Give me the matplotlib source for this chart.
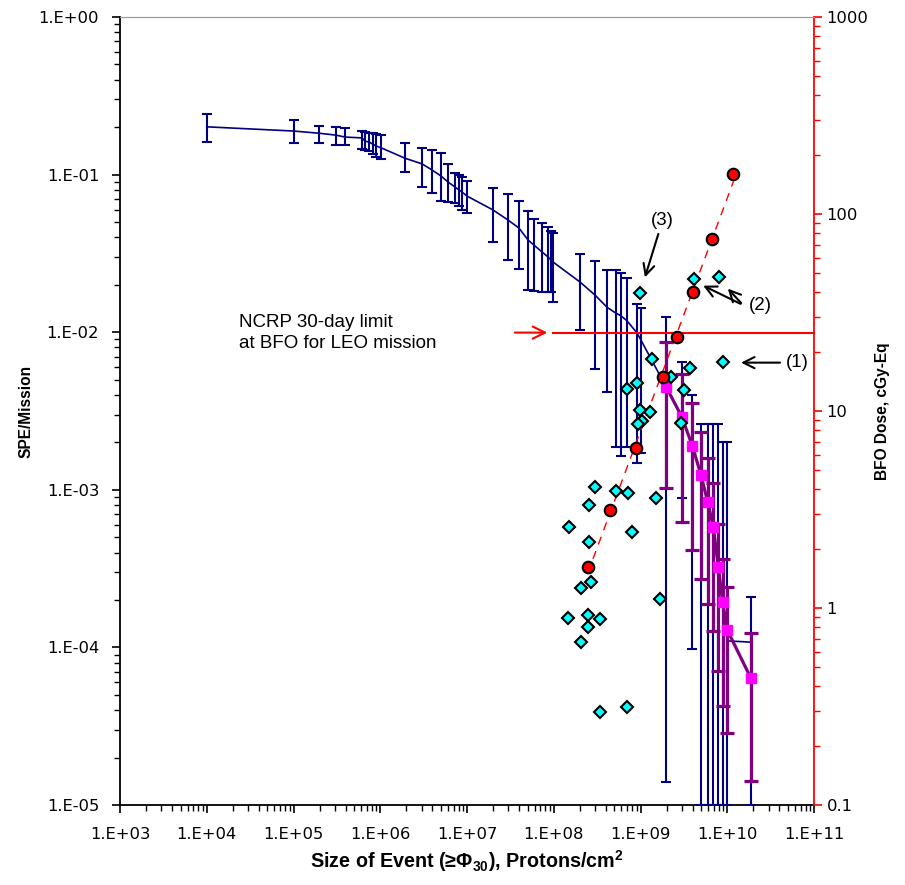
import numpy as np
import matplotlib
matplotlib.use("Agg")
import matplotlib.pyplot as plt
from matplotlib.ticker import LogLocator, NullFormatter, FixedLocator, FixedFormatter

plt.rcParams['mathtext.fontset'] = 'custom'
plt.rcParams['mathtext.bf'] = 'Liberation Sans:bold'
plt.rcParams['mathtext.rm'] = 'Liberation Sans:bold'
plt.rcParams['mathtext.default'] = 'bf'

# ---- SPE/Mission probability curve (blue) ----
spe_x = [1.0e4, 1.0e5, 1.97e5, 3.09e5, 3.93e5, 6.17e5, 6.67e5, 7.41e5, 8.24e5, 8.93e5,
         1.02e6, 1.93e6, 3.03e6, 3.95e6, 5.01e6, 6.04e6, 7.28e6, 8.09e6, 8.75e6, 1.0e7,
         2.0e7, 2.97e7, 3.97e7, 5.05e7, 5.92e7, 7.32e7, 8.59e7, 9.3e7, 9.8e7, 2.01e8,
         2.99e8, 4.11e8, 5.22e8, 5.97e8, 6.99e8, 9.12e8, 1.01e9, 1.97e9, 2.99e9, 3.96e9,
         4.98e9, 5.94e9, 6.9e9, 7.88e9, 8.86e9, 1.0e10, 1.86e10]
spe_y = [0.201, 0.189, 0.183, 0.178, 0.173, 0.171, 0.163, 0.161, 0.156, 0.152,
         0.148, 0.127, 0.117, 0.107, 0.098, 0.0898, 0.0834, 0.0798, 0.0776, 0.0731,
         0.0596, 0.0515, 0.0458, 0.0385, 0.0357, 0.0323, 0.0300, 0.0287, 0.0279, 0.0208,
         0.0172, 0.0144, 0.0132, 0.0127, 0.0118, 0.00989, 0.00893, 4.5e-3, 2.9e-3, 1.9e-3,
         1.25e-3, 8.4e-4, 5.8e-4, 3.3e-4, 1.9e-4, 1.1e-4, 1.08e-4]
spe_hi = [0.241, 0.221, 0.204, 0.201, 0.198, 0.188, 0.186, 0.183, 0.183, 0.180,
          0.179, 0.159, 0.148, 0.143, 0.137, 0.117, 0.103, 0.0994, 0.097, 0.091,
          0.0822, 0.0753, 0.068, 0.0587, 0.052, 0.0495, 0.0467, 0.0439, 0.0426, 0.0313,
          0.0283, 0.0248, 0.0248, 0.0238, 0.0221, 0.0151, 0.0143, 0.0125, 6.5e-3, 4.0e-3,
          2.6e-3, 2.6e-3, 2.6e-3, 2.6e-3, 2.0e-3, 2.0e-3, 2.1e-4]
spe_lo = [0.161, 0.159, 0.158, 0.153, 0.153, 0.146, 0.143, 0.141, 0.135, 0.129,
          0.125, 0.104, 0.0838, 0.0764, 0.068, 0.0668, 0.066, 0.0632, 0.0596, 0.0568,
          0.0374, 0.0287, 0.0252, 0.0185, 0.0183, 0.0181, 0.0181, 0.0181, 0.0155, 0.0103,
          0.00584, 0.00418, 0.00187, 0.00164, 0.00187, 0.00148, 0.00171, 1.4e-5, 8.9e-4, 9.7e-5,
          1e-5, 1e-5, 1e-5, 1e-5, 1e-5, 1e-5, 1e-5]

# ---- second estimate (purple / magenta squares) ----
alt_x = [1.97e9, 2.99e9, 3.96e9, 4.98e9, 5.94e9, 6.9e9, 7.88e9, 8.86e9, 1.0e10, 1.86e10]
alt_y = [4.51e-3, 2.91e-3, 1.9e-3, 1.24e-3, 8.41e-4, 5.84e-4, 3.25e-4, 1.93e-4, 1.29e-4, 6.43e-5]
alt_hi = [8.7e-3, 5.43e-3, 3.54e-3, 2.34e-3, 1.6e-3, 1.1e-3, 6.07e-4, 3.64e-4, 2.43e-4, 1.23e-4]
alt_lo = [1.03e-3, 6.28e-4, 4.15e-4, 2.72e-4, 1.88e-4, 1.28e-4, 7.08e-5, 4.27e-5, 2.85e-5, 1.42e-5]

# ---- BFO dose of events (right axis) ----
dose_x = [2.46e8, 4.5e8, 8.8e8, 1.8e9, 2.66e9, 4.06e9, 6.6e9, 1.18e10]
dose_y = [1.61, 3.14, 6.5, 14.8, 23.8, 40.3, 74.7, 159.6]

ev_x = [9.86e8, 4.14e9, 8.04e9, 1.35e9, 8.85e9, 3.72e9, 2.25e9, 9.04e8, 7.05e8, 3.17e9,
        1.29e9, 9.86e8, 1.03e9, 9.35e8, 2.9e9, 2.99e8, 5.22e8, 7.18e8, 2.57e8, 1.5e9,
        1.51e8, 7.91e8, 2.55e8, 2.69e8, 2.06e8, 1.69e9, 1.47e8, 2.5e8, 3.41e8, 2.46e8,
        2.06e8, 3.41e8, 7.05e8]
ev_y = [39.6, 47.0, 47.9, 18.3, 17.8, 16.5, 14.8, 13.8, 12.9, 12.8,
        9.92, 10.1, 8.93, 8.56, 8.66, 4.13, 3.93, 3.85, 3.32, 3.61,
        2.57, 2.43, 2.16, 1.35, 1.26, 1.11, 0.887, 0.922, 0.876, 0.798,
        0.675, 0.296, 0.315]

limit_dose = 25.0
limit_x = [9.8e7, 1.0e11]

x_ticks = [1e3, 1e4, 1e5, 1e6, 1e7, 1e8, 1e9, 1e10, 1e11]
x_labels = ["1.E+03", "1.E+04", "1.E+05", "1.E+06", "1.E+07", "1.E+08", "1.E+09", "1.E+10", "1.E+11"]
y_ticks = [1e-5, 1e-4, 1e-3, 1e-2, 1e-1, 1e0]
y_labels = ["1.E-05", "1.E-04", "1.E-03", "1.E-02", "1.E-01", "1.E+00"]
r_ticks = [0.1, 1, 10, 100, 1000]
r_labels = ["0.1", "1", "10", "100", "1000"]

NAVY = "#000080"
PURPLE = "#800080"

fig = plt.figure(figsize=(9.05, 8.85), dpi=100)
ax = fig.add_axes([120 / 905, 1 - 805 / 885, 694 / 905, 788 / 885])
ax.set_xscale('log')
ax.set_yscale('log')
ax.set_xlim(1e3, 1e11)
ax.set_ylim(1e-5, 1)

ax2 = ax.twinx()
ax2.set_yscale('log')
ax2.set_ylim(0.1, 1000)

spe_y_a = np.array(spe_y)
yerr = [spe_y_a - np.array(spe_lo), np.array(spe_hi) - spe_y_a]
ax.errorbar(spe_x, spe_y, yerr=yerr, color=NAVY, lw=1.2, elinewidth=1.5,
            capsize=3.6, capthick=1.5, zorder=3)

alt_y_a = np.array(alt_y)
aerr = [alt_y_a - np.array(alt_lo), np.array(alt_hi) - alt_y_a]
ax.errorbar(alt_x, alt_y, yerr=aerr, color=PURPLE, lw=2.3, elinewidth=2.3,
            capsize=4.7, capthick=2.3, marker='s', ms=7.5, mfc='#FF00FF', mec='#FF00FF', zorder=4)

# right axis: limit line, trend, points
ax2.plot(limit_x, [limit_dose, limit_dose], color='red', lw=1.5, zorder=2, clip_on=False)
ax2.annotate("", xy=(9.06e7, limit_dose), xytext=(3.3e7, limit_dose),
             arrowprops=dict(arrowstyle='->', color='red', lw=1.5, mutation_scale=22))

lx = np.log10(dose_x)
ly = np.log10(dose_y)
p = np.polyfit(lx, ly, 1)
tx = np.array([min(lx), max(lx)])
ax2.plot(10 ** tx, 10 ** np.polyval(p, tx), color='red', lw=1, ls=(0, (6, 5)), zorder=2)
ax2.plot(ev_x, ev_y, ls='none', marker='D', ms=6.5, mfc='#00FFFF', mec='black', mew=1.5, zorder=5)
ax2.plot(dose_x, dose_y, ls='none', marker='o', ms=8.3, mfc='#FF0000', mec='black', mew=1.5, zorder=6)

# annotations
ax.text(2.36e4, 0.0099, "NCRP 30-day limit\nat BFO for LEO mission", family='Liberation Sans',
        fontsize=13.5, va='center', ha='left', linespacing=1.25)
arr = dict(arrowstyle='->', color='black', lw=1.5, mutation_scale=20)
ax2.annotate("(3)", xy=(1.1e9, 46.2), xytext=(1.8e9, 93.2), ha='center', va='center',
             fontsize=13.5, family='Liberation Sans', arrowprops=arr)
ax2.annotate("", xy=(4.94e9, 43.9), xytext=(1.52e10, 34.5), arrowprops=arr)
ax2.annotate("", xy=(9.66e9, 42.8), xytext=(1.52e10, 34.5), arrowprops=arr)
ax2.text(1.78e10, 34.5, "(2)", fontsize=13.5, family='Liberation Sans', ha='left', va='center')
ax2.annotate("(1)", xy=(1.34e10, 17.6), xytext=(6.37e10, 17.6), ha='center', va='center',
             fontsize=13.5, family='Liberation Sans', arrowprops=arr)

# ticks
ax.xaxis.set_major_locator(FixedLocator(x_ticks))
ax.xaxis.set_major_formatter(FixedFormatter(x_labels))
ax.xaxis.set_minor_locator(LogLocator(base=10, subs=np.arange(2, 10), numticks=20))
ax.xaxis.set_minor_formatter(NullFormatter())
ax.yaxis.set_major_locator(FixedLocator(y_ticks))
ax.yaxis.set_major_formatter(FixedFormatter(y_labels))
ax.yaxis.set_minor_locator(LogLocator(base=10, subs=np.arange(2, 10), numticks=20))
ax.yaxis.set_minor_formatter(NullFormatter())
ax2.yaxis.set_major_locator(FixedLocator(r_ticks))
ax2.yaxis.set_major_formatter(FixedFormatter(r_labels))
ax2.yaxis.set_minor_locator(LogLocator(base=10, subs=np.arange(2, 10), numticks=20))
ax2.yaxis.set_minor_formatter(NullFormatter())

for lab in ax.get_xticklabels() + ax.get_yticklabels() + ax2.get_yticklabels():
    lab.set_family('DejaVu Sans')
    lab.set_fontsize(11.8)

ax.tick_params(axis='x', which='major', direction='out', length=6, width=1.2, colors='black', pad=10)
ax.tick_params(axis='y', which='major', direction='out', length=6, width=1.2, colors='black', pad=9)
ax.tick_params(axis='both', which='minor', direction='out', length=4, width=1, colors='black')
ax2.tick_params(axis='y', which='major', direction='out', length=6, width=1.2, colors='red',
                labelcolor='black', pad=3)
ax2.tick_params(axis='y', which='minor', direction='out', length=4, width=1, colors='red')

for s in ['left', 'bottom']:
    ax.spines[s].set_color('black')
    ax.spines[s].set_linewidth(1.3)
ax.spines['top'].set_color('#999999')
ax.spines['right'].set_visible(False)
ax2.spines['top'].set_color('#999999')
ax2.spines['right'].set_color('red')
ax2.spines['right'].set_linewidth(1.3)
ax2.spines['left'].set_visible(False)
ax2.spines['bottom'].set_visible(False)

ax.set_ylabel("SPE/Mission", family='Liberation Sans', weight='bold', fontsize=11.2, labelpad=4)
ax2.set_ylabel("BFO Dose, cGy-Eq", family='Liberation Sans', weight='bold', fontsize=11.2, labelpad=5)
ax.set_xlabel("Size of Event (≥$\\Phi_{30}$), Protons/cm$^{2}$", family='Liberation Sans',
              weight='bold', fontsize=14.2, labelpad=4)

fig.savefig("out.png", dpi=100)
